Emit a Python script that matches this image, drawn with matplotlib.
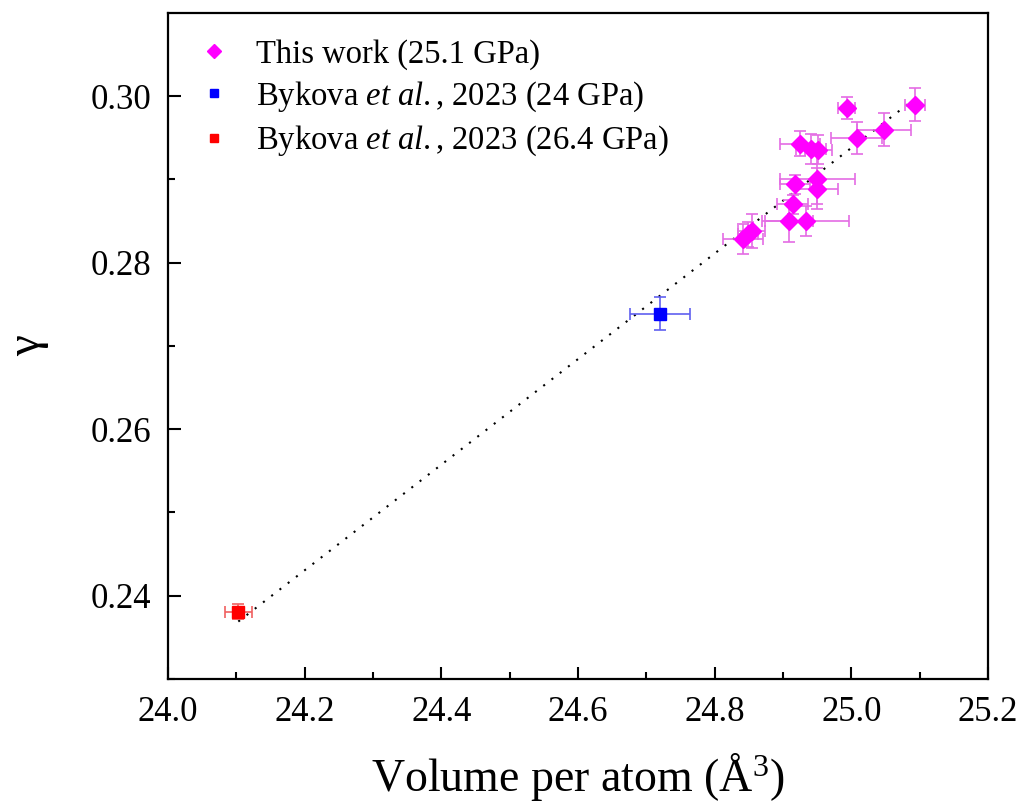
import numpy as np
import matplotlib
matplotlib.use("Agg")
import matplotlib.pyplot as plt

plt.rcParams['font.family'] = ['Liberation Serif', 'DejaVu Serif']
plt.rcParams['mathtext.fontset'] = 'custom'
plt.rcParams['mathtext.rm'] = 'Liberation Serif'
plt.rcParams['mathtext.it'] = 'Liberation Serif:italic'

# this work (25.1 GPa)
work_v = [25.093, 24.993, 25.048, 25.008, 24.925, 24.941, 24.952, 24.950,
          24.918, 24.950, 24.914, 24.909, 24.933, 24.854, 24.849, 24.842]
work_g = [0.2990, 0.2986, 0.2960, 0.2950, 0.2943, 0.2937, 0.2936, 0.2900,
          0.2894, 0.2889, 0.2870, 0.2850, 0.2850, 0.2838, 0.2834, 0.2829]
work_v_err = [0.015, 0.012, 0.040, 0.037, 0.029, 0.022, 0.020, 0.055,
              0.022, 0.031, 0.023, 0.035, 0.063, 0.020, 0.015, 0.029]
work_g_err = [0.0020, 0.0013, 0.0020, 0.0019, 0.0015, 0.0018, 0.0017, 0.0030,
              0.0011, 0.0025, 0.0011, 0.0025, 0.0018, 0.0020, 0.0015, 0.0018]

# Bykova et al., 2023
byk24_v, byk24_g = [24.720], [0.2739]
byk24_v_err, byk24_g_err = [0.044], [0.0020]
byk26_v, byk26_g = [24.103], [0.2381]
byk26_v_err, byk26_g_err = [0.020], [0.0009]

# linear trend
fit_v = [24.103, 25.090]
fit_g = [0.2369, 0.2995]

fig = plt.figure(figsize=(10.24, 8.02), dpi=100)
ax = fig.add_axes([0.164, 0.1534, 0.8008, 0.8304])

ax.plot(fit_v, fit_g, ls=(0, (1, 4)), color='black', lw=1.5, zorder=1)

ax.errorbar(work_v, work_g, xerr=work_v_err, yerr=work_g_err, fmt='D',
            color='#FF00FF', ms=9, mec='#FF00FF', ecolor='#E46CE4',
            elinewidth=1.2, capsize=4, capthick=1.2, zorder=3,
            label='This work (25.1 GPa)')
ax.errorbar(byk24_v, byk24_g, xerr=byk24_v_err, yerr=byk24_g_err, fmt='s',
            color='#0000FF', ms=8, ecolor='#6060F0', elinewidth=1.2,
            capsize=4, capthick=1.2, zorder=3,
            label=r'Bykova $\it{et\ al.}$, 2023 (24 GPa)')
ax.errorbar(byk26_v, byk26_g, xerr=byk26_v_err, yerr=byk26_g_err, fmt='s',
            color='#FF0000', ms=8, ecolor='#F06060', elinewidth=1.2,
            capsize=4, capthick=1.2, zorder=3,
            label=r'Bykova $\it{et\ al.}$, 2023 (26.4 GPa)')

ax.set_xlim(24.0, 25.2)
ax.set_ylim(0.23, 0.31)
ax.set_xticks(np.arange(24.0, 25.21, 0.2))
ax.set_xticks(np.arange(24.1, 25.2, 0.2), minor=True)
ax.set_yticks([0.24, 0.26, 0.28, 0.30])
ax.set_yticks([0.23, 0.25, 0.27, 0.29], minor=True)
ax.xaxis.set_major_formatter(matplotlib.ticker.FormatStrFormatter('%.1f'))
ax.yaxis.set_major_formatter(matplotlib.ticker.FormatStrFormatter('%.2f'))
ax.tick_params(which='both', direction='in', top=False, right=False,
               width=1.5, labelsize=25)
ax.tick_params(which='major', length=9, pad=12)
ax.tick_params(which='minor', length=5)
for s in ax.spines.values():
    s.set_linewidth(1.6)

ax.set_xlabel(r'Volume per atom (Å$^3$)', fontsize=33, labelpad=16)
ax.set_ylabel('γ', fontsize=34, labelpad=30)

handles, labels = ax.get_legend_handles_labels()
handles = [h[0] for h in handles]
leg = ax.legend(handles, labels, loc='upper left', bbox_to_anchor=(0.0, 1.005),
                frameon=False, fontsize=23.5, markerscale=0.75,
                handlelength=1.0, handletextpad=0.8, labelspacing=0.3)

fig.savefig('out.png', dpi=100)
